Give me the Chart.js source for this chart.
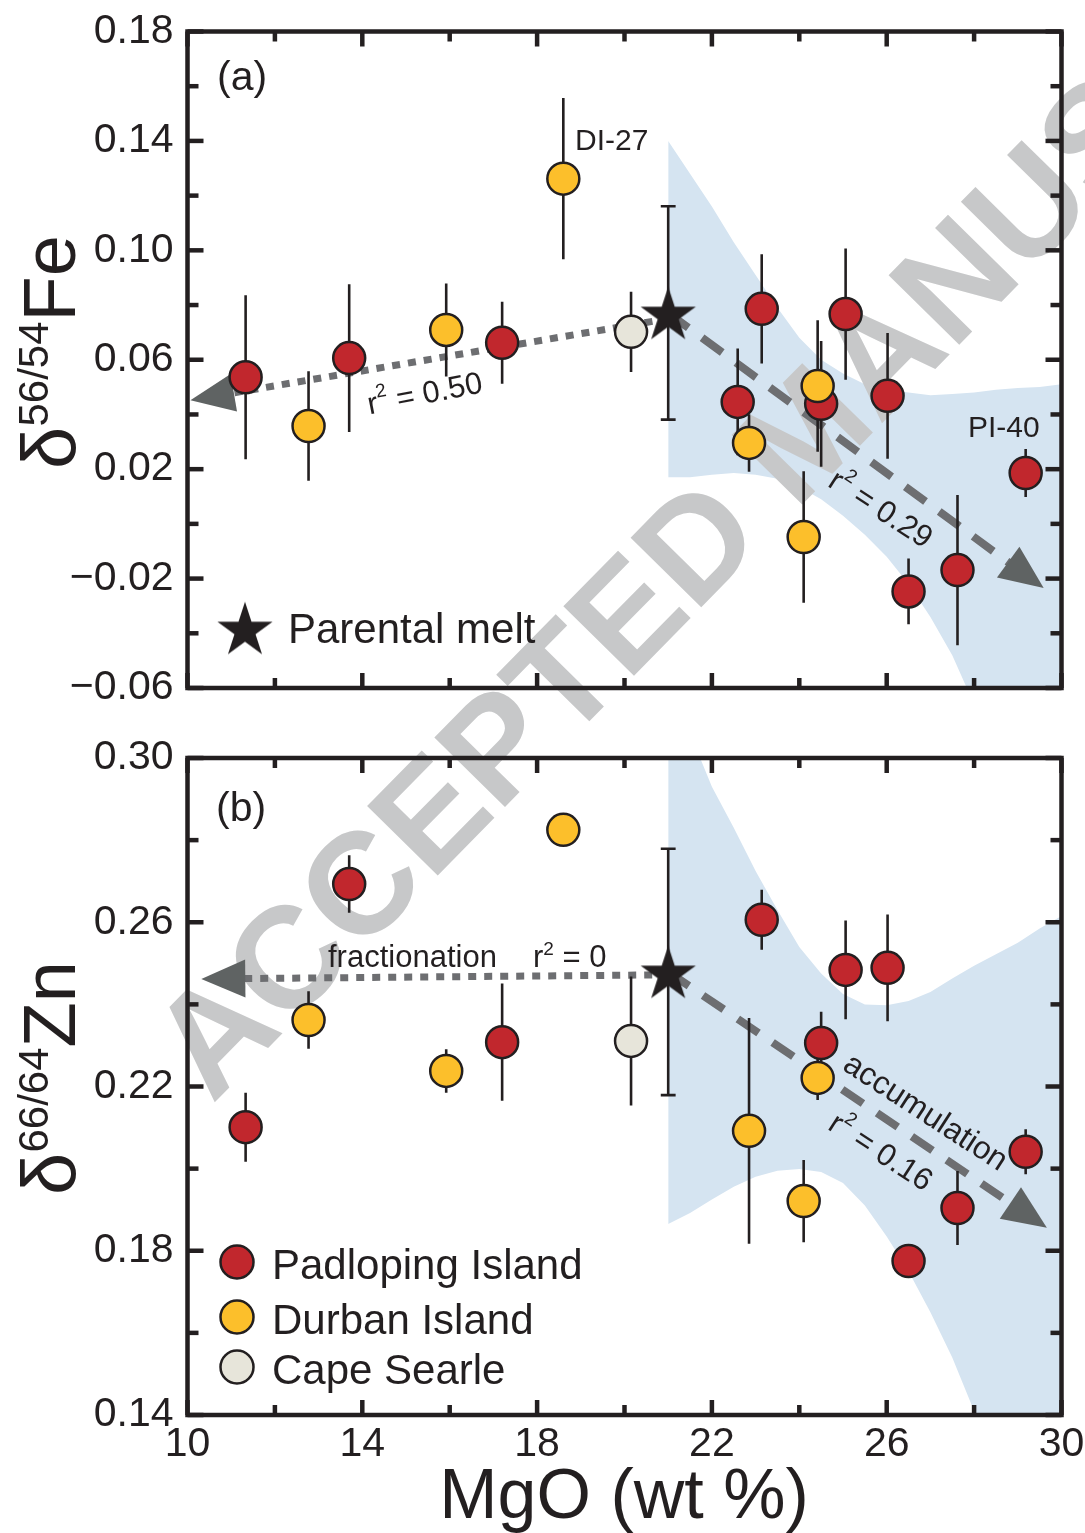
<!DOCTYPE html>
<html><head><meta charset="utf-8">
<script src="https://cdn.jsdelivr.net/npm/chart.js@4.4.1/dist/chart.umd.min.js"></script>
<style>
html,body{margin:0;padding:0;background:#fff;}
#wrap{position:relative;width:1085px;height:1533px;overflow:hidden;background:#fff;}
canvas{position:absolute;left:0;}
</style></head><body>
<div id="wrap">
<canvas id="cFe" width="1085" height="720" style="top:0px"></canvas>
<canvas id="cZn" width="1085" height="813" style="top:720px"></canvas>
</div>
<script>
// ---------------- DATA ----------------
const xTickLabels = [10, 14, 18, 22, 26, 30];
const xMinorTicks = [12, 16, 20, 24, 28];
const feTickLabels = [-0.06, -0.02, 0.02, 0.06, 0.10, 0.14, 0.18];
const feMinorTicks = [-0.04, 0.00, 0.04, 0.08, 0.12, 0.16];
const znTickLabels = [0.14, 0.18, 0.22, 0.26, 0.30];
const znMinorTicks = [0.16, 0.20, 0.24, 0.28];

// Padloping Island
const padMgO   = [11.33, 13.70, 17.20, 23.14, 22.59, 24.50, 25.06, 26.02, 29.18, 26.50, 27.62];
const padFe    = [0.0536, 0.0606, 0.0662, 0.0786, 0.0446, 0.0439, 0.0767, 0.0468, 0.0186, -0.0247, -0.0169];
const padFeErr = [0.030, 0.027, 0.015, 0.020, 0.0195, 0.023, 0.024, 0.023, 0.0088, 0.012, 0.0275];
const padZn    = [0.2101, 0.2693, 0.2308, 0.2606, null, 0.2306, 0.2484, 0.2489, 0.2041, 0.1775, 0.1904];
const padZnErr = [0.0084, 0.007, 0.0143, 0.0073, null, 0.0076, 0.012, 0.013, 0.0055, 0, 0.009];

// Durban Island
const durMgO   = [12.77, 15.92, 18.60, 22.85, 24.42, 24.10];
const durFe    = [0.0358, 0.0709, 0.1262, 0.0296, 0.0504, -0.0048];
const durFeErr = [0.020, 0.017, 0.0295, 0.0105, 0.024, 0.024];
const durZn    = [0.2362, 0.2238, 0.2825, 0.2092, 0.2221, 0.1921];
const durZnErr = [0.007, 0.0053, 0, 0.0275, 0.0054, 0.010];

// Cape Searle
const capeMgO   = [20.15];
const capeFe    = [0.0702];
const capeFeErr = [0.0147];
const capeZn    = [0.2311];
const capeZnErr = [0.0157];

// Parental melt
const meltMgO   = [21.0];
const meltFe    = [0.0771];
const meltFeErr = [0.039];
const meltZn    = [0.2479];
const meltZnErr = [0.030];

// trend arrows
const feFracX = [21.0, 10.18];  const feFracY = [0.0750, 0.0455];
const feAccX  = [21.0, 29.5];   const feAccY  = [0.0771, -0.0224];
const znFracX = [21.0, 10.43];  const znFracY = [0.2472, 0.2462];
const znAccX  = [21.0, 29.57];  const znAccY  = [0.2479, 0.1863];

// confidence bands
const bandMgO     = [21, 21.5, 22, 22.5, 23, 23.5, 24, 24.5, 25, 25.5, 26, 26.5, 27, 27.5, 28, 28.5, 29, 29.5, 30];
const feBandUpper = [0.140, 0.128, 0.116, 0.103, 0.091, 0.079, 0.068, 0.060, 0.055, 0.051, 0.049, 0.048, 0.047, 0.0475, 0.048, 0.049, 0.0497, 0.050, 0.051];
const feBandLower = [0.017, 0.017, 0.018, 0.0186, 0.018, 0.0165, 0.0135, 0.009, 0.003, -0.004, -0.012, -0.022, -0.034, -0.048, -0.066, -0.085, -0.105, -0.125, -0.145];
const znBandUpper = [0.325, 0.306, 0.293, 0.283, 0.2725, 0.263, 0.254, 0.2475, 0.2425, 0.240, 0.2398, 0.2408, 0.243, 0.2463, 0.2494, 0.2522, 0.255, 0.2585, 0.2615];
const znBandLower = [0.1865, 0.1892, 0.1925, 0.1956, 0.198, 0.1995, 0.1999, 0.1992, 0.1965, 0.191, 0.1835, 0.175, 0.165, 0.154, 0.141, 0.128, 0.115, 0.102, 0.089];

// ---------------- STYLE ----------------
const INK = '#231f20';
const FONT = '"Liberation Sans", Arial, Helvetica, sans-serif';
const RED = '#c1272d', YEL = '#fcbf2b', CAPE = '#e7e5da', BAND = '#d5e4f1';
const LINEGRAY = '#6d6e71', ARROWGRAY = '#5f6363', WM = '#c7c8c9';

function starImage(R) {
  const c = document.createElement('canvas');
  const w = Math.ceil(2 * R * Math.sin(2 * Math.PI / 5)) + 2;
  const hStar = R * (1 + Math.cos(Math.PI / 5));
  const h = Math.ceil(hStar) + 2;
  c.width = w; c.height = h;
  const g = c.getContext('2d');
  const cx = w / 2, cy = (h - hStar) / 2 + R;
  const r = R * 0.382;
  g.beginPath();
  for (let i = 0; i < 10; i++) {
    const a = -Math.PI / 2 + i * Math.PI / 5;
    const rr = i % 2 === 0 ? R : r;
    g.lineTo(cx + rr * Math.cos(a), cy + rr * Math.sin(a));
  }
  g.closePath(); g.fillStyle = INK; g.fill();
  return c;
}
const STAR = starImage(29);

const zip = (xs, ys) => xs.map((x, i) => ({ x, y: ys[i] }));
function errSegs(xs, ys, es) {
  const out = [];
  xs.forEach((x, i) => {
    if (ys[i] == null || !es[i]) return;
    out.push({ x, y: ys[i] - es[i] }, { x, y: ys[i] + es[i] }, { x, y: null });
  });
  return out;
}
function capSegs(xs, ys, es, hw) {
  const out = [];
  xs.forEach((x, i) => {
    [ys[i] - es[i], ys[i] + es[i]].forEach(v => out.push({ x: x - hw, y: v }, { x: x + hw, y: v }, { x, y: null }));
  });
  return out;
}
function pointDs(label, data, color, order) {
  return { label, data, showLine: false, pointRadius: 16, pointStyle: 'circle',
    pointBackgroundColor: color, pointBorderColor: INK, pointBorderWidth: 2.5, order, borderColor: 'rgba(0,0,0,0)' };
}
function buildDatasets(v) {
  return [
    { label: 'band-upper', data: zip(bandMgO, v.bandU), showLine: true, borderWidth: 0, borderColor: 'rgba(0,0,0,0)', pointRadius: 0,
      fill: '+1', backgroundColor: BAND, order: 100, isBand: true },
    { label: 'band-lower', data: zip(bandMgO, v.bandL), showLine: true, borderWidth: 0, borderColor: 'rgba(0,0,0,0)', pointRadius: 0,
      fill: false, order: 100 },
    { label: 'fractionation', data: zip(v.fracX, v.fracY), showLine: true, borderColor: LINEGRAY, borderWidth: 7,
      borderDash: [8, 8], pointRadius: 0, order: 60, arrow: true, fill: false },
    { label: 'accumulation', data: zip(v.accX, v.accY), showLine: true, borderColor: LINEGRAY, borderWidth: 8,
      borderDash: [25, 17], pointRadius: 0, order: 60, arrow: true, fill: false },
    { label: 'errors', data: [].concat(errSegs(padMgO, v.pad, v.padE), errSegs(durMgO, v.dur, v.durE),
        errSegs(capeMgO, v.cape, v.capeE), errSegs(meltMgO, v.melt, v.meltE)),
      showLine: true, borderColor: INK, borderWidth: 2.6, pointRadius: 0, order: 50, fill: false },
    { label: 'caps', data: capSegs(meltMgO, v.melt, v.meltE, 0.17), showLine: true, borderColor: INK, borderWidth: 2.6,
      pointRadius: 0, order: 50, fill: false },
    pointDs('Cape Searle', zip(capeMgO, v.cape), CAPE, 40),
    pointDs('Padloping Island', zip(padMgO, v.pad), RED, 30),
    pointDs('Durban Island', zip(durMgO, v.dur), YEL, 20),
    { label: 'Parental melt', data: zip(meltMgO, v.melt), showLine: false, pointStyle: STAR, pointRadius: 20,
      borderColor: 'rgba(0,0,0,0)', order: 10 }
  ];
}

// ---------------- DRAW HELPERS ----------------
function rich(ctx, parts, x, y, o) {
  o = o || {};
  ctx.save();
  ctx.translate(x, y);
  if (o.angle) ctx.rotate(o.angle * Math.PI / 180);
  let w = 0;
  parts.forEach(p => { ctx.font = `${p.b ? 'bold ' : ''}${p.s}px ${FONT}`; p._w = ctx.measureText(p.t).width; w += p._w; });
  let cx = o.align === 'center' ? -w / 2 : (o.align === 'right' ? -w : 0);
  ctx.textBaseline = o.baseline || 'alphabetic';
  ctx.textAlign = 'left';
  ctx.fillStyle = o.color || INK;
  parts.forEach(p => { ctx.font = `${p.b ? 'bold ' : ''}${p.s}px ${FONT}`; ctx.fillText(p.t, cx, p.dy || 0); cx += p._w; });
  ctx.restore();
}
function r2(val, s) { return [{ t: 'r', s }, { t: '2', s: Math.round(s * 0.6), dy: -s * 0.38 }, { t: ' = ' + val, s }]; }

function drawWatermark(ctx, pageTop) {
  ctx.save();
  ctx.translate(0, -pageTop);
  ctx.translate(184, 1077);
  ctx.rotate(-45.5 * Math.PI / 180);
  ctx.font = `bold 144px ${FONT}`;
  ctx.fillStyle = WM;
  ctx.textBaseline = 'middle';
  ctx.textAlign = 'left';
  ctx.fillText('ACCEPTED MANUSCRIPT', 0, 0);
  ctx.restore();
}
function drawArrow(chart, meta) {
  const pts = meta.data;
  const p0 = pts[pts.length - 2], p1 = pts[pts.length - 1];
  const a = Math.atan2(p1.y - p0.y, p1.x - p0.x);
  const L = 44, H = 19, ext = 5;
  const tx = p1.x + ext * Math.cos(a), ty = p1.y + ext * Math.sin(a);
  const bx = tx - L * Math.cos(a), by = ty - L * Math.sin(a);
  const ctx = chart.ctx;
  ctx.save();
  ctx.beginPath();
  ctx.moveTo(tx, ty);
  ctx.lineTo(bx + H * Math.sin(a), by - H * Math.cos(a));
  ctx.lineTo(bx - H * Math.sin(a), by + H * Math.cos(a));
  ctx.closePath();
  ctx.fillStyle = ARROWGRAY;
  ctx.fill();
  ctx.restore();
}
function drawFrame(chart, cfg) {
  const ctx = chart.ctx, a = chart.chartArea, xs = chart.scales.x, ys = chart.scales.y;
  ctx.save();
  ctx.strokeStyle = INK; ctx.lineCap = 'butt';
  ctx.lineWidth = 4.5;
  const MJ = 15, MN = 10, YMJ = 16, YMN = 11;
  const tick = (x1, y1, x2, y2) => { ctx.beginPath(); ctx.moveTo(x1, y1); ctx.lineTo(x2, y2); ctx.stroke(); };
  xTickLabels.concat(xMinorTicks).forEach(v => {
    const L = xTickLabels.includes(v) ? MJ : MN;
    const px = xs.getPixelForValue(v);
    tick(px, a.bottom, px, a.bottom - L);
    tick(px, a.top, px, a.top + L);
  });
  cfg.yMajor.concat(cfg.yMinor).forEach(v => {
    const L = cfg.yMajor.includes(v) ? YMJ : YMN;
    const py = ys.getPixelForValue(v);
    tick(a.left, py, a.left + L, py);
    tick(a.right, py, a.right - L, py);
  });
  ctx.lineWidth = 4.5;
  ctx.strokeRect(a.left, a.top, a.right - a.left, a.bottom - a.top);
  ctx.restore();
}

function feAnnotations(ctx) {
  rich(ctx, [{ t: '(a)', s: 41 }], 217, 90);
  rich(ctx, [{ t: 'DI-27', s: 30 }], 575, 150);
  rich(ctx, [{ t: 'PI-40', s: 30 }], 968, 437);
  rich(ctx, r2('0.50', 31), 425, 395, { angle: -11, align: 'center', baseline: 'middle' });
  rich(ctx, r2('0.29', 31), 880, 510, { angle: 33, align: 'center', baseline: 'middle' });
  // legend: parental melt
  ctx.drawImage(STAR, 245 - STAR.width / 2, 628 - STAR.height / 2);
  rich(ctx, [{ t: 'Parental melt', s: 42 }], 288, 643);
  // y title
  rich(ctx, [{ t: 'δ', s: 76 }, { t: '56/54', s: 42, dy: -27 }, { t: 'Fe', s: 74 }], 75, 352, { angle: -90, align: 'center' });
}
function znAnnotations(ctx) {
  rich(ctx, [{ t: '(b)', s: 41 }], 216, 821);
  rich(ctx, [{ t: 'fractionation', s: 31 }], 328, 967);
  rich(ctx, r2('0', 31), 533, 967);
  rich(ctx, [{ t: 'accumulation', s: 32 }], 925, 1113, { angle: 33, align: 'center', baseline: 'middle' });
  rich(ctx, r2('0.16', 31), 880, 1153, { angle: 33, align: 'center', baseline: 'middle' });
  // legend
  [[RED, 'Padloping Island', 1262], [YEL, 'Durban Island', 1317], [CAPE, 'Cape Searle', 1367]].forEach(([c, t, y]) => {
    ctx.beginPath(); ctx.arc(237, y, 16.5, 0, Math.PI * 2);
    ctx.fillStyle = c; ctx.fill(); ctx.lineWidth = 2.5; ctx.strokeStyle = INK; ctx.stroke();
    rich(ctx, [{ t, s: 42 }], 272, y + 17);
  });
  rich(ctx, [{ t: 'δ', s: 76 }, { t: '66/64', s: 42, dy: -27 }, { t: 'Zn', s: 74 }], 75, 1078, { angle: -90, align: 'center' });
  rich(ctx, [{ t: 'MgO (wt %)', s: 70 }], 624, 1518, { align: 'center' });
}

const PANELS = {
  cFe: { pageTop: 0, yMajor: feTickLabels, yMinor: feMinorTicks, notes: feAnnotations },
  cZn: { pageTop: 720, yMajor: znTickLabels, yMinor: znMinorTicks, notes: znAnnotations }
};

const panelPlugin = {
  id: 'panelDeco',
  afterDatasetDraw(chart, args) {
    const cfg = PANELS[chart.canvas.id];
    const ds = chart.data.datasets[args.index];
    if (ds.isBand) drawWatermark(chart.ctx, cfg.pageTop);
    if (ds.arrow) drawArrow(chart, args.meta);
  },
  afterDraw(chart) {
    const cfg = PANELS[chart.canvas.id];
    drawFrame(chart, cfg);
    const ctx = chart.ctx;
    ctx.save();
    ctx.translate(0, -cfg.pageTop);
    cfg.notes(ctx);
    ctx.restore();
  }
};

const fmt = v => {
  const s = Math.abs(v) < 1e-9 ? '0.00' : Number(v).toFixed(2);
  return s.replace('-', '\u2212');
};

function makeChart(id, datasets, yMin, yMax, yTicks, padTop, xAxisH, showX) {
  return new Chart(document.getElementById(id), {
    type: 'line',
    data: { datasets },
    options: {
      responsive: false, animation: false, devicePixelRatio: 1, events: [],
      layout: { padding: { top: padTop, right: 23.5, left: 0, bottom: 0 } },
      elements: { line: { tension: 0, borderCapStyle: 'butt' } },
      plugins: { legend: { display: false }, tooltip: { enabled: false } },
      scales: {
        x: {
          type: 'linear', min: 10, max: 30,
          grid: { display: false, drawTicks: false }, border: { display: false },
          afterBuildTicks: s => { s.ticks = xTickLabels.map(v => ({ value: v })); },
          ticks: { display: showX, font: { family: FONT, size: 41 }, color: INK, padding: 5, maxRotation: 0, autoSkip: false },
          afterFit: s => { s.height = xAxisH; s.paddingLeft = 0; s.paddingRight = 0; s.paddingTop = 0; s.paddingBottom = 0; }
        },
        y: {
          type: 'linear', min: yMin, max: yMax,
          grid: { display: false, drawTicks: false }, border: { display: false },
          afterBuildTicks: s => { s.ticks = yTicks.map(v => ({ value: v })); },
          ticks: { font: { family: FONT, size: 41 }, color: INK, padding: 14, callback: fmt, autoSkip: false },
          afterFit: s => { s.width = 187.5; s.paddingTop = 0; s.paddingBottom = 0; s.paddingLeft = 0; s.paddingRight = 0; }
        }
      }
    },
    plugins: [panelPlugin]
  });
}

makeChart('cFe', buildDatasets({
  bandU: feBandUpper, bandL: feBandLower, fracX: feFracX, fracY: feFracY, accX: feAccX, accY: feAccY,
  pad: padFe, padE: padFeErr, dur: durFe, durE: durFeErr, cape: capeFe, capeE: capeFeErr, melt: meltFe, meltE: meltFeErr
}), -0.06, 0.18, feTickLabels, 31.5, 32, false);

makeChart('cZn', buildDatasets({
  bandU: znBandUpper, bandL: znBandLower, fracX: znFracX, fracY: znFracY, accX: znAccX, accY: znAccY,
  pad: padZn, padE: padZnErr, dur: durZn, durE: durZnErr, cape: capeZn, capeE: capeZnErr, melt: meltZn, meltE: meltZnErr
}), 0.14, 0.30, znTickLabels, 38, 118, true);
</script>
</body></html>
